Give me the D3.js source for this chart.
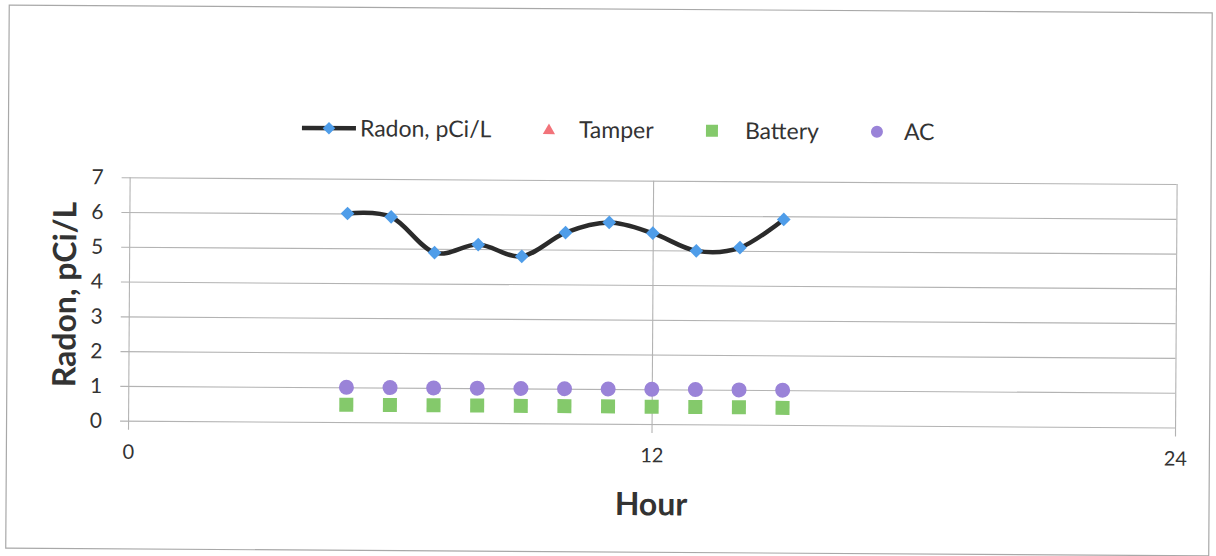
<!DOCTYPE html>
<html>
<head>
<meta charset="utf-8">
<script src="https://cdn.jsdelivr.net/npm/d3@7"></script>
<style>
  html, body { margin: 0; padding: 0; background: #fff; }
  svg { display: block; }
  text { font-family: Lato, "Open Sans", sans-serif; fill: #333; }
</style>
</head>
<body>
<svg id="chart" width="1216" height="556"></svg>
<script>
// ---- data ----
const hours   = [5, 6, 7, 8, 9, 10, 11, 12, 13, 14, 15];
const radon   = [6.0, 5.91, 4.89, 5.13, 4.8, 5.49, 5.79, 5.49, 4.99, 5.09, 5.91];
const tamper  = [];   // no tamper events recorded
const battery = [0.5, 0.5, 0.5, 0.5, 0.5, 0.5, 0.5, 0.5, 0.5, 0.5, 0.49];
const ac      = [1, 1, 1, 1, 1, 1, 1, 1, 1, 1, 1];
const xTicks  = [0, 12, 24];
const yTicks  = [0, 1, 2, 3, 4, 5, 6, 7];
const seriesNames = ["Radon, pCi/L", "Tamper", "Battery", "AC"];

const colors = { radonLine: "#2b2b2b", radonMark: "#4f9de9", tamper: "#f2737a", battery: "#84c96b", ac: "#9a83d8" };

const svg = d3.select("#chart");
svg.append("rect").attr("width", 1216).attr("height", 556).attr("fill", "#fff");

const g = svg.append("g").attr("transform", "rotate(0.37, 608, 278)");

// chart border
g.append("rect").attr("x", 7.5).attr("y", 9).attr("width", 1203).attr("height", 543)
  .attr("fill", "none").attr("stroke", "#a8a8a8").attr("stroke-width", 1.2);

const pLeft = 129, pRight = 1176, pBottom = 423.8, pTop = 180.4;
const x = d3.scaleLinear().domain([0, 24]).range([pLeft, pRight]);
const y = d3.scaleLinear().domain([0, 7]).range([pBottom, pTop]);

// y axis w/ horizontal gridlines
const yAxis = g.append("g").attr("transform", `translate(${pLeft - 8},0)`)
  .call(d3.axisLeft(y).tickValues(yTicks).tickSize(-(pRight - pLeft + 8)).tickPadding(18).tickFormat(d3.format("d")));
yAxis.select(".domain").remove();
yAxis.selectAll("line").attr("stroke", "#b3b3b3").attr("stroke-width", 1.1);
yAxis.selectAll("text").attr("font-size", 21).attr("fill", "#333").attr("font-family", "Lato, sans-serif");

// x axis w/ vertical gridlines
const xAxis = g.append("g").attr("transform", `translate(0,${pBottom + 9})`)
  .call(d3.axisBottom(x).tickValues(xTicks).tickSize(-(pBottom + 9 - pTop)).tickPadding(15).tickFormat(d3.format("d")));
xAxis.select(".domain").remove();
xAxis.selectAll("line").attr("stroke", "#b3b3b3").attr("stroke-width", 1.1);
xAxis.selectAll("text").attr("font-size", 20).attr("fill", "#333").attr("font-family", "Lato, sans-serif");

// axis titles
g.append("text").attr("x", x(12)).attr("y", 515).attr("text-anchor", "middle")
  .attr("font-size", 32).attr("font-weight", "bold").text("Hour");
g.append("text").attr("transform", `translate(76,${298}) rotate(-90)`).attr("text-anchor", "middle")
  .attr("font-size", 32).attr("font-weight", "bold").text("Radon, pCi/L");

// series
const sq = 14;
g.append("g").selectAll("rect").data(hours.map((h, i) => [h, battery[i]])).join("rect")
  .attr("x", d => x(d[0]) - sq / 2).attr("y", d => y(d[1]) - sq / 2)
  .attr("width", sq).attr("height", sq).attr("fill", colors.battery);

g.append("g").selectAll("circle").data(hours.map((h, i) => [h, ac[i]])).join("circle")
  .attr("cx", d => x(d[0])).attr("cy", d => y(d[1])).attr("r", 7.5).attr("fill", colors.ac);

const triSym = d3.symbol().type(d3.symbolTriangle).size(70);
g.append("g").selectAll("path").data(tamper).join("path")
  .attr("transform", d => `translate(${x(d[0])},${y(d[1])})`).attr("d", triSym).attr("fill", colors.tamper);

const line = d3.line().x(d => x(d[0])).y(d => y(d[1])).curve(d3.curveCardinal.tension(0));
const radonPts = hours.map((h, i) => [h, radon[i]]);
g.append("path").datum(radonPts).attr("d", line).attr("fill", "none")
  .attr("stroke", colors.radonLine).attr("stroke-width", 4.5).attr("stroke-linejoin", "round");

const diamond = d3.symbol().type(d3.symbolDiamond2).size(120);
g.append("g").selectAll("path").data(radonPts).join("path")
  .attr("transform", d => `translate(${x(d[0])},${y(d[1])})`).attr("d", diamond).attr("fill", colors.radonMark);

// legend
const ly = 130;
const leg = g.append("g");
leg.append("line").attr("x1", 301).attr("x2", 355).attr("y1", ly).attr("y2", ly)
  .attr("stroke", colors.radonLine).attr("stroke-width", 4.5);
leg.append("path").attr("transform", `translate(328,${ly})`).attr("d", d3.symbol().type(d3.symbolDiamond2).size(100)).attr("fill", colors.radonMark);
leg.append("path").attr("transform", `translate(548,${ly + 1})`).attr("d", d3.symbol().type(d3.symbolTriangle).size(65)).attr("fill", colors.tamper);
leg.append("rect").attr("x", 705).attr("y", ly - 6).attr("width", 12).attr("height", 12).attr("fill", colors.battery);
leg.append("circle").attr("cx", 876).attr("cy", ly).attr("r", 6).attr("fill", colors.ac);
const legX = [359, 578, 744, 903];
leg.selectAll("text.l").data(seriesNames).join("text").attr("class", "l")
  .attr("x", (d, i) => legX[i]).attr("y", ly + 8).attr("font-size", 23).text(d => d);
</script>
</body>
</html>
